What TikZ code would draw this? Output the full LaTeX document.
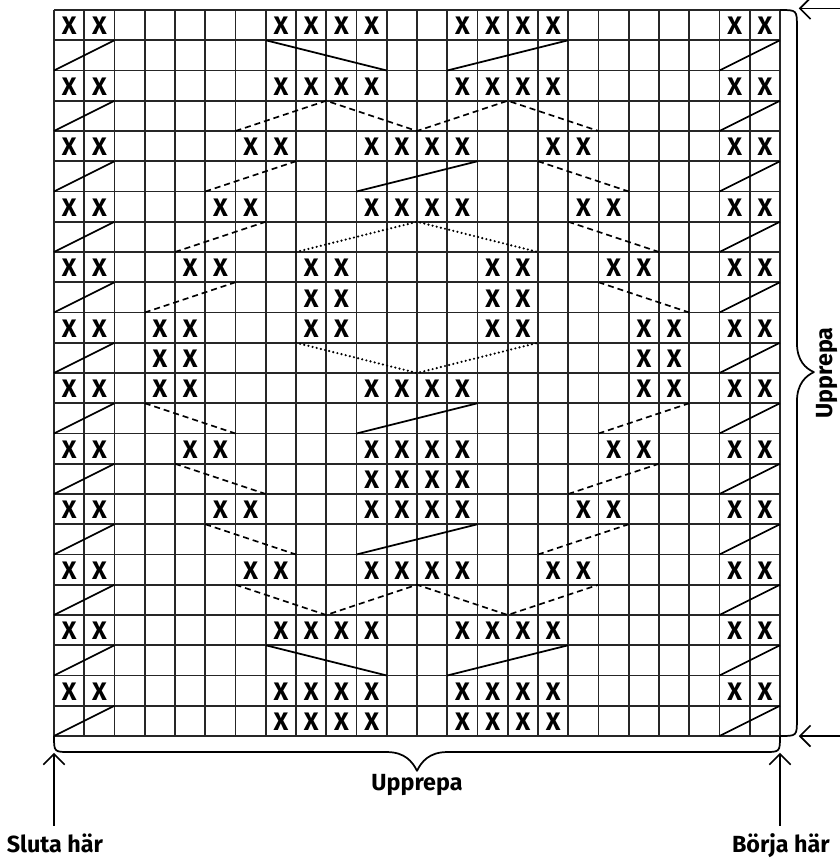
\documentclass[tikz,border=0pt]{standalone}
\usepackage{fontspec}
\setmainfont{Fira Sans}
\usetikzlibrary{arrows.meta}

\tikzset{
  gridline/.style={line width=1.35pt, black!85},
  stitch/.style={font=\bfseries\fontsize{19}{19}\selectfont, inner sep=0pt},
  slashline/.style={line width=1.3pt},
  dashline/.style={line width=1.25pt, dash pattern=on 4.5pt off 3pt},
  dotline/.style={line width=1.8pt, dash pattern=on 0pt off 3.2pt, line cap=round},
  repbrace/.style={line width=1.3pt, line join=round},
  pointer/.style={line width=1.2pt, shorten <=6pt, -{Straight Barb[length=8pt,width=16pt]}},
  chartlabel/.style={font=\bfseries\fontsize{17.5}{17.5}\selectfont, inner sep=0pt}
}

\begin{document}
\begin{tikzpicture}[x=22.6875pt, y=-22.6875pt]
\path[use as bounding box, fill=white] (-1.785,-0.3306) rectangle (25.983,28.033);
% grid:
\foreach \i in {0,...,24} {
  \draw[gridline] (\i,0) -- (\i,24);
  \draw[gridline] (0,\i) -- (24,\i);
}
% stitches:
\foreach \r/\cols in {
  0/{0,1,7,8,9,10,13,14,15,16,22,23},
  2/{0,1,7,8,9,10,13,14,15,16,22,23},
  4/{0,1,6,7,10,11,12,13,16,17,22,23},
  6/{0,1,5,6,10,11,12,13,17,18,22,23},
  8/{0,1,4,5,8,9,14,15,18,19,22,23},
  9/{8,9,14,15},
  10/{0,1,3,4,8,9,14,15,19,20,22,23},
  11/{3,4,19,20},
  12/{0,1,3,4,10,11,12,13,19,20,22,23},
  14/{0,1,4,5,10,11,12,13,18,19,22,23},
  15/{10,11,12,13},
  16/{0,1,5,6,10,11,12,13,17,18,22,23},
  18/{0,1,6,7,10,11,12,13,16,17,22,23},
  20/{0,1,7,8,9,10,13,14,15,16,22,23},
  22/{0,1,7,8,9,10,13,14,15,16,22,23},
  23/{7,8,9,10,13,14,15,16}}
  \foreach \c in \cols
    \node[stitch] (st-\r-\c) at (\c+0.5,\r+0.53) {X};
% edge slashes:
\foreach \r in {1,3,...,23} {
  \draw[slashline] (0,\r+1) -- (2,\r);
  \draw[slashline] (22,\r+1) -- (24,\r);
}
% solid lines:
\draw[slashline] (7,1) -- (11,2);
\draw[slashline] (13,2) -- (17,1);
\draw[slashline] (10,6) -- (14,5);
\draw[slashline] (10,14) -- (14,13);
\draw[slashline] (10,18) -- (14,17);
\draw[slashline] (7,21) -- (11,22);
\draw[slashline] (13,22) -- (17,21);
% dashed lines:
\draw[dashline] (6,4) -- (9,3) -- (12,4) -- (15,3) -- (18,4);
\draw[dashline] (5,6) -- (8,5);   \draw[dashline] (16,5) -- (19,6);
\draw[dashline] (4,8) -- (7,7);   \draw[dashline] (17,7) -- (20,8);
\draw[dashline] (3,10) -- (6,9);  \draw[dashline] (18,9) -- (21,10);
\draw[dashline] (3,13) -- (6,14); \draw[dashline] (18,14) -- (21,13);
\draw[dashline] (4,15) -- (7,16); \draw[dashline] (17,16) -- (20,15);
\draw[dashline] (5,17) -- (8,18); \draw[dashline] (16,18) -- (19,17);
\draw[dashline] (6,19) -- (9,20) -- (12,19) -- (15,20) -- (18,19);
% dotted lines:
\draw[dotline] (8,8) -- (12,7) -- (16,8);
\draw[dotline] (8,11) -- (12,12) -- (16,11);
% braces:
\draw[repbrace] (24,0) .. controls (24.56,0) .. (24.56,0.56) -- (24.56,11.0)
  .. controls (24.56,11.6) and (24.85,11.85) .. (25.12,11.97)
  .. controls (24.85,12.1) and (24.56,12.35) .. (24.56,12.95) -- (24.56,23.44)
  .. controls (24.56,24) .. (24,24);
\draw[repbrace] (0,24) .. controls (0,24.53) .. (0.53,24.53) -- (11.0,24.53)
  .. controls (11.6,24.53) and (11.85,24.85) .. (12,25.15)
  .. controls (12.15,24.85) and (12.4,24.53) .. (13.0,24.53) -- (23.47,24.53)
  .. controls (24,24.53) .. (24,24);
\node[chartlabel, anchor=base, rotate=90] (upprepa-r) at (25.74,12) {Upprepa};
\node[chartlabel, anchor=base] (upprepa-b) at (12,25.79) {Upprepa};
% start / end:
\node[chartlabel, anchor=base] (sluta) at (0.03,27.86) {Sluta här};
\node[chartlabel, anchor=base] (borja) at (24.03,27.86) {Börja här};
\coordinate (sluta-tip) at (0,24.56);
\coordinate (borja-tip) at (24,24.56);
\draw[pointer] (sluta.north -| sluta-tip) -- (sluta-tip);
\draw[pointer] (borja.north -| borja-tip) -- (borja-tip);
% row arrows:
\coordinate (top-in) at (26.2,-0.05);
\coordinate (top-tip) at (24.62,-0.05);
\coordinate (bot-in) at (26.2,24);
\coordinate (bot-tip) at (24.62,24);
\draw[pointer, shorten <=0pt] (top-in) -- (top-tip);
\draw[pointer, shorten <=0pt] (bot-in) -- (bot-tip);
\end{tikzpicture}
\end{document}
